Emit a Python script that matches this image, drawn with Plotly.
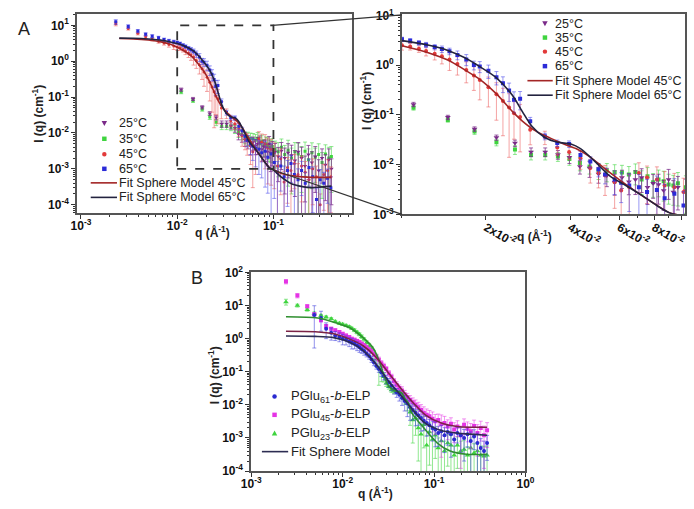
import plotly.graph_objects as go

W, H = 694, 509
FONT = "Liberation Sans, Arial, sans-serif"

def px(x):
    return x / W

def py(y):
    return 1 - y / H

# ---------------- Panel A data ----------------
# 45 C and 65 C share the same q grid
qA_hot = [0.0023, 0.0031, 0.0039, 0.0047, 0.0055, 0.0064, 0.0073, 0.0082, 0.0092, 0.0100,
          0.0107, 0.0115, 0.0122, 0.0131, 0.0139, 0.0148, 0.0158, 0.0170, 0.0181, 0.0190,
          0.0204, 0.0218, 0.0230, 0.0242, 0.0252, 0.0265, 0.0288, 0.0325, 0.0360, 0.0397,
          0.0436, 0.0473, 0.0506, 0.0534, 0.0578, 0.0610, 0.0652, 0.0706, 0.0755, 0.0819,
          0.0873, 0.0946, 0.102, 0.110, 0.119, 0.129, 0.140, 0.152, 0.165, 0.180,
          0.196, 0.214, 0.234, 0.256, 0.280, 0.306, 0.334, 0.365, 0.395]
IA65 = [12.5, 9.3, 6.9, 5.6, 5.0, 4.5, 4.0, 3.7, 3.5, 3.3,
        3.1, 2.8, 2.55, 2.3, 2.1, 1.9, 1.6, 1.3, 1.0, 0.94,
        0.77, 0.57, 0.43, 0.31, 0.20, 0.21, 0.074, 0.037, 0.027, 0.026,
        0.0155, 0.0115, 0.0081, 0.0063, 0.0050, 0.0043, 0.0038, 0.0035, 0.0028, 0.0031,
        0.0021, 0.0026, 0.0015, 0.0008, 0.0012, 0.0006, 0.0009, 0.0014, 0.0007, 0.0005,
        0.0009, 0.0004, 0.0011, 0.0006, 0.00014, 0.0005, 0.0004, 0.00055, 0.0003]
errA65 = [0.15, 0.12, 0.1, 0.1, 0.1, 0.1, 0.1, 0.1, 0.1, 0.1,
          0.1, 0.1, 0.12, 0.12, 0.15, 0.15, 0.2, 0.25, 0.2, 0.25,
          0.3, 0.3, 0.35, 0.4, 0.45, 0.4, 0.2, 0.15, 0.15, 0.15,
          0.2, 0.25, 0.3, 0.35, 0.5, 0.6, 0.7, 0.8, 0.8, 0.9, 0.9, 1.0,
          0.9, 1.0, 0.8, 1.0, 0.9, 0.7, 1.0, 1.0, 0.8, 1.0, 0.7, 0.9, 1.0, 0.9, 1.0, 0.8, 1.0]
IA45 = [11.0, 8.2, 6.0, 4.8, 4.1, 3.6, 3.2, 2.9, 2.65, 2.5,
        2.36, 2.12, 1.91, 1.69, 1.51, 1.30, 1.05, 0.80, 0.62, 0.50,
        0.36, 0.26, 0.19, 0.14, 0.108, 0.09, 0.05, 0.036, 0.022, 0.018,
        0.0134, 0.0085, 0.0068, 0.0060, 0.0044, 0.0030, 0.0035, 0.0068, 0.0055, 0.0050,
        0.0038, 0.0035, 0.0028, 0.0012, 0.0019, 0.00043, 0.0011, 0.0009, 0.0014, 0.0007,
        0.0012, 0.0008, 0.0005, 0.0010, 0.0006, 0.0001, 0.0007, 0.0009, 0.0006]
errA45 = [0.12, 0.1, 0.1, 0.1, 0.1, 0.12, 0.12, 0.15, 0.2, 0.2,
          0.15, 0.15, 0.2, 0.25, 0.3, 0.4, 0.4, 0.45, 0.5, 0.6,
          0.6, 0.7, 0.8, 0.9, 0.7, 0.8, 0.5, 0.3, 0.3, 0.3,
          0.4, 0.5, 0.5, 0.6, 0.7, 0.9, 0.8, 0.6, 0.7, 0.8, 0.9, 0.9,
          0.9, 1.0, 0.9, 1.0, 0.9, 1.0, 0.8, 1.0, 0.9, 1.0, 1.0, 0.9, 1.0, 1.0, 0.9, 1.0, 0.9]

# 25 C and 35 C share another q grid
qA_cold = [0.0110, 0.0146, 0.0182, 0.0218, 0.0254, 0.0290, 0.0326, 0.0362, 0.0398, 0.0434,
           0.0470, 0.0506, 0.0542, 0.0578, 0.0614, 0.0650, 0.0686, 0.0722, 0.0758, 0.0794,
           0.0830, 0.0866, 0.0902, 0.0938, 0.0974, 0.104, 0.112, 0.121, 0.131, 0.142,
           0.154, 0.167, 0.181, 0.196, 0.213, 0.231, 0.251, 0.272, 0.295, 0.320,
           0.347, 0.376, 0.400]
IA35 = [0.138, 0.079, 0.046, 0.028, 0.020, 0.0155, 0.0155, 0.0145, 0.0129, 0.0107,
        0.0092, 0.0077, 0.0075, 0.0071, 0.0069, 0.0063, 0.0071, 0.0050, 0.0058, 0.0044,
        0.0050, 0.0046, 0.0040, 0.0038, 0.0042, 0.0035, 0.0030, 0.0040, 0.0025, 0.0033,
        0.0020, 0.0030, 0.0026, 0.0022, 0.0031, 0.0018, 0.0028, 0.0021, 0.0025, 0.0015,
        0.0026, 0.0020, 0.0022]
errA35 = [0.1, 0.1, 0.12, 0.15, 0.2, 0.2, 0.2, 0.2, 0.25, 0.3,
          0.3, 0.35, 0.4, 0.4, 0.4, 0.45, 0.45, 0.5, 0.5, 0.5,
          0.55, 0.6, 0.6, 0.6, 0.65, 0.7, 0.8, 0.7, 0.8, 0.9,
          0.9, 0.8, 1.0, 0.9, 0.8, 1.0, 0.9, 0.8, 1.0, 0.9,
          0.8, 1.0, 0.9]
IA25 = [0.162, 0.089, 0.052, 0.035, 0.027, 0.018, 0.018, 0.016, 0.014, 0.0092,
        0.0085, 0.0065, 0.0060, 0.0044, 0.0055, 0.0045, 0.0050, 0.0055, 0.0035, 0.0042,
        0.0040, 0.0030, 0.0050, 0.0028, 0.0035, 0.0030, 0.0022, 0.0032, 0.0020, 0.0028,
        0.0024, 0.0017, 0.0030, 0.0020, 0.0012, 0.0025, 0.0015, 0.0022, 0.0009, 0.0020,
        0.0013, 0.0018, 0.0010]
errA25 = [0.1, 0.1, 0.1, 0.12, 0.15, 0.2, 0.2, 0.2, 0.25, 0.3,
          0.35, 0.35, 0.4, 0.45, 0.4, 0.45, 0.5, 0.5, 0.55, 0.5,
          0.6, 0.6, 0.6, 0.7, 0.65, 0.7, 0.8, 0.7, 0.9, 0.8,
          0.9, 0.9, 0.8, 1.0, 0.9, 0.8, 1.0, 0.9, 1.0, 0.8,
          0.9, 1.0, 0.9]

fit65_q = [0.0025, 0.0035, 0.005, 0.007, 0.0085, 0.0100, 0.0125, 0.0146, 0.0168, 0.0190,
           0.0218, 0.0249, 0.0270, 0.0292, 0.0325, 0.0362, 0.0403, 0.0436, 0.0485, 0.0555,
           0.0634, 0.0724, 0.0828, 0.0910, 0.100, 0.120, 0.150, 0.200, 0.250, 0.300, 0.400]
fit65_I = [4.4, 4.35, 4.15, 3.8, 3.45, 3.1, 2.5, 1.97, 1.4, 0.93,
           0.555, 0.245, 0.116, 0.059, 0.035, 0.028, 0.026, 0.021, 0.0124, 0.0059,
           0.0038, 0.0024, 0.00144, 0.00107, 0.00092, 0.0006, 0.0004, 0.00032, 0.0003, 0.00031, 0.00033]
fit45_q = [0.0025, 0.0035, 0.005, 0.007, 0.0085, 0.0100, 0.0125, 0.0146, 0.0168, 0.0190,
           0.0218, 0.0249, 0.0270, 0.0300, 0.0340, 0.0380, 0.0420, 0.0470, 0.0530, 0.0600,
           0.0700, 0.0800, 0.0910, 0.100, 0.120, 0.150, 0.200, 0.250, 0.300, 0.400]
fit45_I = [4.3, 4.2, 3.9, 3.4, 2.95, 2.45, 1.75, 1.26, 0.80, 0.516,
           0.263, 0.116, 0.075, 0.048, 0.034, 0.026, 0.021, 0.0145, 0.0085, 0.0050,
           0.0027, 0.00165, 0.00107, 0.00095, 0.00075, 0.00065, 0.0006, 0.00058, 0.00058, 0.00058]

# ---------------- Panel B data ----------------
qB = [0.0024, 0.0032, 0.0041, 0.0049, 0.0058, 0.0066, 0.0075, 0.0083, 0.0092, 0.0100,
      0.0109, 0.0118, 0.0126, 0.0135, 0.0144, 0.0153, 0.0162, 0.0172, 0.0183, 0.0195,
      0.0207, 0.0220, 0.0234, 0.0249, 0.0265, 0.0282, 0.0300, 0.0320, 0.0342, 0.0365,
      0.0390, 0.0417, 0.0446, 0.0477, 0.0510, 0.0546, 0.0585, 0.0627, 0.0672, 0.0720,
      0.0772, 0.0830, 0.0890, 0.0960, 0.103, 0.111, 0.120, 0.130, 0.141, 0.153,
      0.166, 0.180, 0.196, 0.213, 0.232, 0.252, 0.274, 0.298, 0.324, 0.352, 0.380]
IB61 = [None, None, None, 5.2, 4.2, 2.0, 1.5, 1.25, 1.15, 1.0,
        0.92, 0.82, 0.75, 0.7, 0.62, 0.55, 0.48, 0.42, 0.35, 0.3,
        0.24, 0.19, 0.15, 0.12, 0.095, 0.075, 0.06, 0.048, 0.038, 0.03,
        0.024, 0.02, 0.016, 0.013, 0.011, 0.0085, 0.007, 0.0058, 0.0048, 0.004,
        0.0033, 0.0028, 0.0024, 0.002, 0.0018, 0.0014, 0.0016, 0.0012, 0.0015, 0.0013,
        0.0009, 0.0014, 0.0012, 0.001, 0.0013, 0.0008, 0.0011, 0.0007, 0.0005, 0.0004, 0.0007]
errB61 = [0, 0, 0, 0.9, 0.6, 0.5, 0.4, 0.3, 0.3, 0.35,
          0.3, 0.3, 0.35, 0.3, 0.3, 0.3, 0.25, 0.25, 0.2, 0.2,
          0.2, 0.2, 0.2, 0.2, 0.25, 0.25, 0.3, 0.3, 0.3, 0.3,
          0.3, 0.35, 0.4, 0.5, 0.6, 0.6, 0.5, 0.6, 0.5, 0.6,
          0.5, 0.6, 0.5, 0.6, 0.7, 0.6, 0.5, 0.7, 0.6, 0.8,
          0.6, 0.5, 0.7, 0.8, 0.6, 0.9, 0.6, 1.0, 0.9, 1.0, 0.7]
IB45 = [53, 20, 9.6, 5.5, 3.6, 2.4, 2.0, 1.8, 1.6, 1.4,
        1.25, 1.12, 1.0, 0.92, 0.85, 0.78, 0.7, 0.62, 0.55, 0.48,
        0.42, 0.34, 0.28, 0.23, 0.18, 0.15, 0.12, 0.09, 0.07, 0.052,
        0.04, 0.032, 0.027, 0.021, 0.017, 0.014, 0.012, 0.01, 0.0085, 0.007,
        0.0058, 0.005, 0.0045, 0.0038, 0.0032, 0.0035, 0.0026, 0.0028, 0.0022, 0.0027,
        0.0018, 0.0022, 0.0012, 0.0025, 0.0019, 0.0016, 0.0023, 0.0014, 0.0020, 0.0012, 0.0017]
errB45 = [0.15, 0.15, 0.1, 0.1, 0.1, 0.1, 0.1, 0.1, 0.1, 0.1,
          0.1, 0.1, 0.1, 0.12, 0.12, 0.12, 0.12, 0.15, 0.15, 0.15,
          0.15, 0.15, 0.2, 0.2, 0.2, 0.2, 0.2, 0.2, 0.2, 0.2,
          0.25, 0.25, 0.3, 0.3, 0.3, 0.35, 0.35, 0.4, 0.4, 0.45,
          0.5, 0.5, 0.5, 0.6, 0.6, 0.5, 0.9, 0.6, 0.6, 0.5,
          0.6, 0.5, 0.9, 0.5, 0.6, 0.7, 0.5, 0.8, 0.6, 0.9, 0.7]
IB23 = [12.9, 10.0, 7.5, 5.8, 5.0, 4.5, 4.0, 3.3, 2.9, 2.7,
        2.5, 2.3, 2.05, 1.8, 1.55, 1.35, 1.15, 0.95, 0.75, 0.60,
        0.48, 0.34, 0.24, 0.13, 0.10, 0.07, 0.045, 0.035, 0.028, 0.026,
        0.025, 0.024, 0.020, 0.015, 0.011, 0.006, 0.0035, 0.004, 0.002, 0.0013,
        0.0025, 0.0006, 0.0015, 0.0009, 0.0012, 0.0005, 0.0008, 0.0004, 0.0007, 0.0006,
        0.0003, 0.0006, 0.0004, 0.00045, 0.0003, 0.0005, 0.00035, 0.0004, 0.0003, 0.00028, 0.0003]
errB23 = [0.2, 0.1, 0.1, 0.1, 0.08, 0.08, 0.08, 0.08, 0.08, 0.08,
          0.08, 0.08, 0.08, 0.1, 0.1, 0.1, 0.12, 0.12, 0.15, 0.2,
          0.2, 0.3, 0.4, 0.7, 0.5, 0.3, 0.2, 0.15, 0.15, 0.15,
          0.15, 0.15, 0.2, 0.3, 0.4, 0.6, 0.8, 0.7, 0.9, 1.0,
          0.8, 1.0, 0.9, 1.0, 0.8, 1.0, 0.9, 1.0, 0.8, 1.0,
          0.9, 0.8, 1.0, 0.9, 0.8, 1.0, 0.9, 0.8, 0.9, 1.0, 0.9]

fitB61_q = [0.0024, 0.005, 0.008, 0.0121, 0.0167, 0.0231, 0.032, 0.0443, 0.060, 0.0785, 0.1175, 0.176, 0.25, 0.38]
fitB61_I = [1.2, 1.17, 1.07, 0.76, 0.44, 0.17, 0.051, 0.018, 0.0065, 0.0029, 0.0017, 0.0014, 0.0013, 0.0012]
fitB45_q = [0.0024, 0.005, 0.008, 0.0121, 0.0167, 0.0231, 0.032, 0.0443, 0.060, 0.080, 0.12, 0.18, 0.25, 0.38]
fitB45_I = [1.68, 1.62, 1.4, 0.95, 0.61, 0.28, 0.089, 0.029, 0.011, 0.005, 0.0028, 0.0022, 0.0021, 0.0021]
fitB23_q = [0.0024, 0.00535, 0.00873, 0.0121, 0.0167, 0.0213, 0.025, 0.0283, 0.032, 0.0348, 0.0377,
            0.041, 0.0443, 0.0482, 0.052, 0.0566, 0.0785, 0.1087, 0.150, 0.226, 0.38]
fitB23_I = [4.6, 4.2, 2.9, 2.1, 1.07, 0.55, 0.22, 0.079, 0.036, 0.030, 0.026,
            0.025, 0.023, 0.0150, 0.0117, 0.0059, 0.0019, 0.0007, 0.0004, 0.00032, 0.00032]

# ---------------- figure ----------------
fig = go.Figure()


def add_points(q, I, rel, color, ecolor, symbol, size, xa, ya):
    err = [None if v is None else v * r for v, r in zip(I, rel)]
    fig.add_trace(go.Scatter(
        x=q, y=I, mode="markers", showlegend=False, xaxis=xa, yaxis=ya,
        marker=dict(color=color, symbol=symbol, size=size, line=dict(width=0)),
        error_y=dict(type="data", array=err, color=ecolor, thickness=1, width=2),
    ))


def add_fit(q, I, color, width, xa, ya):
    fig.add_trace(go.Scatter(
        x=q, y=I, mode="lines", showlegend=False, xaxis=xa, yaxis=ya,
        line=dict(color=color, width=width, shape="spline", smoothing=0.8),
    ))


C25, C35, C45, C65 = "#7a2a88", "#3fd43f", "#e23a3a", "#2b2bd8"
E25, E35, E45, E65 = ("rgba(122,42,136,0.75)", "rgba(70,215,70,0.6)",
                      "rgba(235,90,90,0.55)", "rgba(70,70,235,0.55)")
F45, F65 = "#a32626", "#23233f"

for xa, ya, s in (("x", "y", 4), ("x2", "y2", 5)):
    add_points(qA_cold, IA35, errA35, C35, E35, "square", s - 1, xa, ya)
    add_points(qA_cold, IA25, errA25, C25, E25, "triangle-down", s, xa, ya)
    add_points(qA_hot, IA45, errA45, C45, E45, "circle", s - 1, xa, ya)
    add_points(qA_hot, IA65, errA65, C65, E65, "square", s - 1, xa, ya)
    add_fit(fit45_q, fit45_I, F45, 1.6, xa, ya)
    add_fit(fit65_q, fit65_I, F65, 1.6, xa, ya)

CB61, CB45, CB23 = "#2a2ad0", "#e533e5", "#3fd43f"
add_points(qB, IB23, errB23, CB23, "rgba(70,215,70,0.6)", "triangle-up", 5, "x3", "y3")
add_points(qB, IB45, errB45, CB45, "rgba(230,60,230,0.55)", "square", 4, "x3", "y3")
add_points(qB, IB61, errB61, CB61, "rgba(60,60,220,0.55)", "circle", 4, "x3", "y3")
add_fit(fitB23_q, fitB23_I, "#2f8f2f", 1.6, "x3", "y3")
add_fit(fitB45_q, fitB45_I, "#7b2346", 1.6, "x3", "y3")
add_fit(fitB61_q, fitB61_I, "#2c2c52", 1.6, "x3", "y3")


def pw(e):
    return "10<sup>%d</sup>" % e


def axis(domain, rng, tickvals, ticktext, anchor, standoff=0):
    return dict(
        type="log", domain=domain, range=rng, anchor=anchor,
        tickmode="array", tickvals=tickvals, ticktext=ticktext,
        showline=True, linecolor="#555555", linewidth=1.6, mirror=True,
        ticks="outside", ticklen=4, tickwidth=1, tickcolor="#333333",
        ticklabelstandoff=standoff,
        showgrid=False, zeroline=False,
        tickfont=dict(family=FONT, size=12, color="#111111", weight="bold"),
        minor=dict(ticks="outside", ticklen=2, tickwidth=1, tickcolor="#333333",
                   dtick="D1", showgrid=False),
    )


decA_x = [-3, -2, -1]
decA_y = [-4, -3, -2, -1, 0, 1]
decR_y = [-3, -2, -1, 0, 1]
decB_x = [-3, -2, -1, 0]
decB_y = [-4, -3, -2, -1, 0, 1, 2]
right_ticks = [0.02, 0.04, 0.06, 0.08, 0.1]
right_text = ["2x10<sup>-2</sup>", "4x10<sup>-2</sup>", "6x10<sup>-2</sup>",
              "8x10<sup>-2</sup>", "10<sup>-1</sup>"]

layout = dict(
    width=W, height=H, margin=dict(l=0, r=0, t=0, b=0),
    paper_bgcolor="white", plot_bgcolor="white", showlegend=False,
    font=dict(family=FONT, color="#111111"),
    xaxis=axis([px(69), px(352)], [-3.04, -0.18], [10.0 ** e for e in decA_x], [pw(e) for e in decA_x], "y", -4),
    yaxis=axis([py(211), py(5)], [-4.24, 1.32], [10.0 ** e for e in decA_y], [pw(e) for e in decA_y], "x"),
    xaxis2=axis([px(403), 1.0], [-2.0, -0.986], right_ticks, right_text, "y2", -4),
    yaxis2=axis([py(212), py(5)], [-3.0, 1.03], [10.0 ** e for e in decR_y], [pw(e) for e in decR_y], "x2"),
    xaxis3=axis([px(248), px(530)], [-3.0, 0.0], [10.0 ** e for e in decB_x], [pw(e) for e in decB_x], "y3", -3),
    yaxis3=axis([py(477), py(272)], [-4.0, 2.0], [10.0 ** e for e in decB_y], [pw(e) for e in decB_y], "x3"),
)
fig.update_layout(**layout)

shapes = []
annotations = []

# dashed zoom box in panel A (data coordinates of left axes)
shapes.append(dict(type="rect", xref="x", yref="y", x0=0.01, x1=0.1, y0=1e-3, y1=10,
                   line=dict(color="#333333", width=1.8, dash="dash")))
# connecting lines
shapes.append(dict(type="line", xref="paper", yref="paper", x0=px(270), y0=py(17), x1=px(403), y1=py(6),
                   line=dict(color="#333333", width=1.2)))
shapes.append(dict(type="line", xref="paper", yref="paper", x0=px(270), y0=py(166), x1=px(403), y1=py(212),
                   line=dict(color="#333333", width=1.2)))


def text(x, y, s, size=13, bold=False, angle=0, anchor="left", color="#222222"):
    annotations.append(dict(
        xref="paper", yref="paper", x=px(x), y=py(y), text=s, showarrow=False,
        xanchor=anchor, yanchor="middle", textangle=angle, borderpad=0,
        font=dict(family=FONT, size=size, color=color, weight="bold" if bold else "normal"),
    ))


def marker(xc, yc, kind, color, s=2.3):
    if kind == "square":
        shapes.append(dict(type="rect", xref="paper", yref="paper", x0=px(xc - s), x1=px(xc + s),
                           y0=py(yc + s), y1=py(yc - s), fillcolor=color, line=dict(width=0)))
    elif kind == "circle":
        shapes.append(dict(type="circle", xref="paper", yref="paper", x0=px(xc - s), x1=px(xc + s),
                           y0=py(yc + s), y1=py(yc - s), fillcolor=color, line=dict(width=0)))
    elif kind == "tri-down":
        path = "M %f,%f L %f,%f L %f,%f Z" % (px(xc - s - 0.5), py(yc - s), px(xc + s + 0.5), py(yc - s),
                                              px(xc), py(yc + s + 0.5))
        shapes.append(dict(type="path", xref="paper", yref="paper", path=path, fillcolor=color,
                           line=dict(width=0)))
    elif kind == "tri-up":
        path = "M %f,%f L %f,%f L %f,%f Z" % (px(xc - s - 0.5), py(yc + s), px(xc + s + 0.5), py(yc + s),
                                              px(xc), py(yc - s - 0.5))
        shapes.append(dict(type="path", xref="paper", yref="paper", path=path, fillcolor=color,
                           line=dict(width=0)))


def legline(x0, x1, y, color):
    shapes.append(dict(type="line", xref="paper", yref="paper", x0=px(x0), x1=px(x1), y0=py(y), y1=py(y),
                       line=dict(color=color, width=1.6)))


legA_names = ["25°C", "35°C", "45°C", "65°C"]
legA_kinds = [("tri-down", C25), ("square", C35), ("circle", C45), ("square", C65)]
fit_names = ["Fit Sphere Model 45°C", "Fit Sphere Model 65°C"]

# legend, left panel A
for (kind, col), name, y in zip(legA_kinds, legA_names, [118, 134, 150, 165]):
    marker(97, y, kind, col)
    text(111, y, name, size=12.5)
for name, col, y in zip(fit_names, [F45, F65], [179.5, 194.5]):
    legline(83, 110, y, col)
    text(111, y, name, size=12.5)

# legend, right panel A
for (kind, col), name, y in zip(legA_kinds, legA_names, [15, 29.5, 44, 59]):
    marker(550, y, kind, col)
    text(559, y, name, size=12.5)
for name, col, y in zip(fit_names, [F45, F65], [74, 89]):
    legline(532, 558, y, col)
    text(559, y, name, size=12.5)

# legend, panel B
legB = [("circle", CB61, "PGlu<sub>61</sub>-<i>b</i>-ELP", 400),
        ("square", CB45, "PGlu<sub>45</sub>-<i>b</i>-ELP", 419),
        ("tri-up", CB23, "PGlu<sub>23</sub>-<i>b</i>-ELP", 438)]
for kind, col, name, y in legB:
    marker(272, y, kind, col)
    text(288, y, name)
legline(259, 286, 457, "#2c2c52")
text(288, 457, "Fit Sphere Model")

# axis titles
ytitle = "I (q) (cm<sup>-1</sup>)"
xtitle = "q (Å<sup>-1</sup>)"
text(28, 108, ytitle, size=12, bold=True, angle=-90, anchor="center")
text(208, 230, xtitle, size=12, bold=True, anchor="center")
text(366, 95, ytitle, size=12, bold=True, angle=-90, anchor="center")
text(539, 234, xtitle, size=12, bold=True, anchor="center")
text(210, 378, ytitle, size=12, bold=True, angle=-90, anchor="center")
text(376, 500, xtitle, size=12, bold=True, anchor="center")

# panel letters
text(14, 21, "A", size=18, anchor="center")
text(192, 278, "B", size=18, anchor="center")

fig.update_layout(shapes=shapes, annotations=annotations)
fig.write_html("out.html")
